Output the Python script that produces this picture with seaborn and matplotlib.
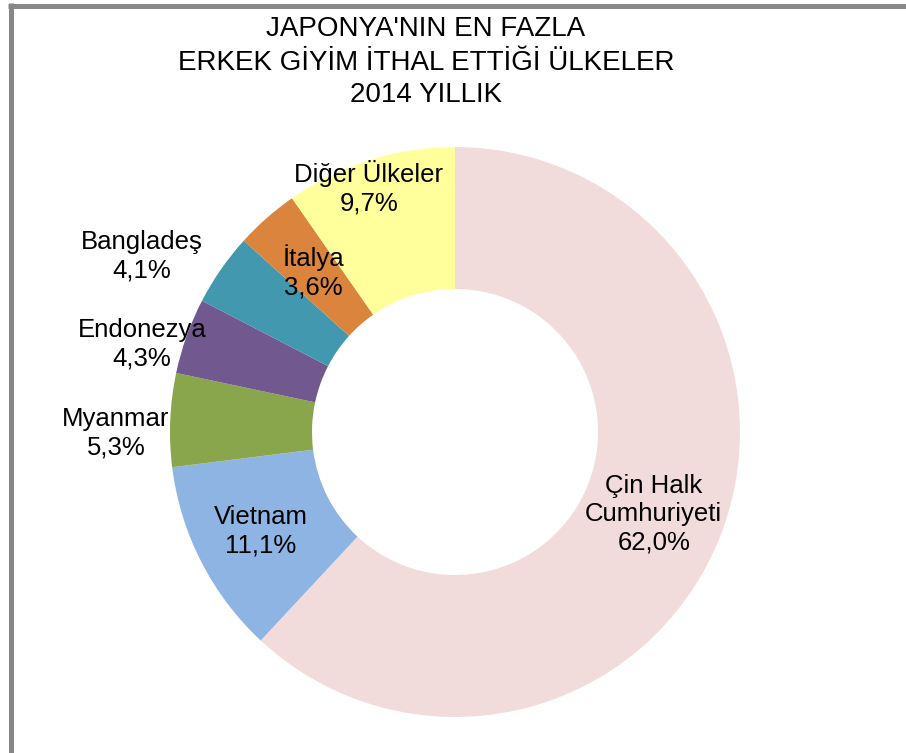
import numpy as np
import matplotlib
matplotlib.use("Agg")
import matplotlib.pyplot as plt
from matplotlib.lines import Line2D
import seaborn as sns

# ---- data ----
countries = ["Çin Halk\nCumhuriyeti", "Vietnam", "Myanmar", "Endonezya",
             "Bangladeş", "İtalya", "Diğer Ülkeler"]
shares = [62.0, 11.1, 5.3, 4.3, 4.1, 3.6, 9.7]
colors = ["#F2DCDB", "#8EB4E3", "#8AA64C", "#71588F", "#4198AF", "#DB843D", "#FFFF9C"]
title_lines = ["JAPONYA'NIN EN FAZLA", "ERKEK GİYİM İTHAL ETTİĞİ ÜLKELER", "2014 YILLIK"]

# label placement (radius factor of outer radius, angle shift in degrees)
label_r = [0.755, 0.765, 1.19, 1.14, 1.26, 0.75, 0.91]
label_dtheta = [-1.0, 0, 2.7, 4.0, 5.5, 0, 2.0]

sns.set_theme(style="white")
plt.rcParams['font.family'] = ['Liberation Sans', 'DejaVu Sans']

W, H = 906, 753
fig = plt.figure(figsize=(W / 100, H / 100), dpi=100)
fig.patch.set_facecolor("white")
ax = fig.add_axes([0, 0, 1, 1])

cx, cy, R = 455, H - 432, 285
ring = 142
wedges, _ = ax.pie(shares, colors=colors, startangle=90, counterclock=False,
                   center=(cx, cy), radius=R,
                   wedgeprops=dict(width=ring, linewidth=0, antialiased=True))
ax.set_xlim(0, W)
ax.set_ylim(0, H)
ax.set_aspect("auto")
ax.axis("off")

for w, name, val, rf, dt in zip(wedges, countries, shares, label_r, label_dtheta):
    ang = np.deg2rad((w.theta1 + w.theta2) / 2 + dt)
    x = cx + rf * R * np.cos(ang)
    y = cy + rf * R * np.sin(ang)
    txt = f"{name}\n{val:.1f}%".replace(".", ",")
    ax.text(x, y, txt, ha="center", va="center", fontsize=18.5,
            linespacing=1.24, color="black")

for line, ypx in zip(title_lines, [36.5, 70, 102]):
    fig.text(426 / W, 1 - ypx / H, line, ha="center", va="baseline",
             fontsize=20, color="black")

# outer frame (top and left edges visible)
fig.add_artist(Line2D([8 / W, 1], [1 - 5.5 / H, 1 - 5.5 / H], transform=fig.transFigure,
                      color="#878787", lw=3.6, solid_capstyle="butt"))
fig.add_artist(Line2D([10.5 / W, 10.5 / W], [0, 1 - 3 / H], transform=fig.transFigure,
                      color="#878787", lw=3.6, solid_capstyle="butt"))

fig.savefig("out.png", dpi=100, facecolor="white")
